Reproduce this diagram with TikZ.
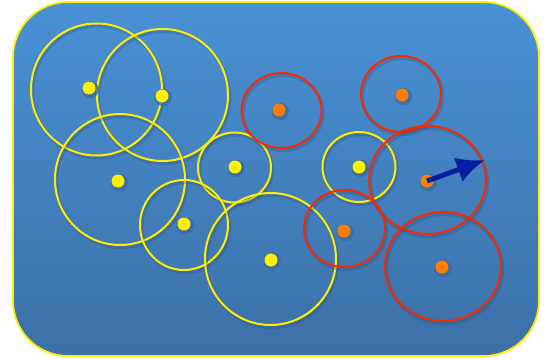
\documentclass[tikz,border=0pt]{standalone}
\usepackage{tikz}
\usetikzlibrary{arrows.meta,calc,positioning}
\usepackage{xcolor}
\definecolor{bgtop}{RGB}{73,145,213}
\definecolor{bgbot}{RGB}{60,112,166}
\definecolor{ringyellow}{RGB}{255,240,0}
\definecolor{ringred}{RGB}{250,40,0}
\definecolor{dotorange}{RGB}{255,125,0}
\definecolor{arrowblue}{RGB}{5,30,160}
\definecolor{shadowblue}{RGB}{40,70,115}
\tikzset{
  ring/.style={line width=1.7pt},
  ringshadow/.style={shadowblue,line width=2.8pt,opacity=0.25},
  ydot/.style={circle,fill=ringyellow,inner sep=0pt,minimum size=0.39cm},
  odot/.style={circle,fill=dotorange,inner sep=0pt,minimum size=0.39cm},
  dotshadow/.style={circle,fill=shadowblue!50!bgtop,inner sep=0pt,minimum size=0.52cm,opacity=0.8}
}

\begin{document}
\begin{tikzpicture}[x=0.03cm,y=-0.03cm,>=Latex]
  \useasboundingbox (0,0) rectangle (550,360);
  % panel
  \shade[top color=bgtop,bottom color=bgbot,rounded corners=1.65cm] (13,2) rectangle (539,356);
  \draw[ringyellow,line width=1.6pt,rounded corners=1.65cm] (13,2) rectangle (539,356);
  % rings: x, y, rx, ry, colour
  \foreach \x/\y/\rx/\ry/\c in {96.5/89.5/65.5/66/ringyellow,162.5/95/65.5/66/ringyellow,
      120/179.5/65/65.5/ringyellow,234.5/167.5/36.5/35/ringyellow,184/225/44/45/ringyellow,
      270.5/259/65.5/66/ringyellow,281.5/110.5/40/37.5/ringred,401/94/40/38/ringred,
      359/167/36.5/35/ringyellow,427.5/180/58.5/54/ringred,344.5/228.5/40.5/38.5/ringred,
      443/266.5/58/54.5/ringred}{
    \draw[ringshadow] (\x+1.5,\y+2.5) ellipse [x radius=\rx,y radius=\ry];
    \draw[ring,\c] (\x,\y) ellipse [x radius=\rx,y radius=\ry];
  }
  % dots
  \foreach \x/\y/\n in {89/88/y1,162/96/y2,118/181/y3,235/167/y4,184/224/y5,271/260/y6,359/167/y7}{
    \node[dotshadow] at (\x+1.2,\y+1.5) {};
    \node[ydot] (\n) at (\x,\y) {};
  }
  \foreach \x/\y/\n in {279/110/o1,402/95/o2,427/181/o3,344/231/o4,442/267/o5}{
    \node[dotshadow] at (\x+1.2,\y+1.5) {};
    \node[odot] (\n) at (\x,\y) {};
  }
  % heading
  \coordinate (tip) at (485,160);
  \draw[arrowblue,line width=4.2pt,-{Latex[length=0.85cm,width=0.78cm]}] (o3.center) -- (tip);
\end{tikzpicture}
\end{document}
